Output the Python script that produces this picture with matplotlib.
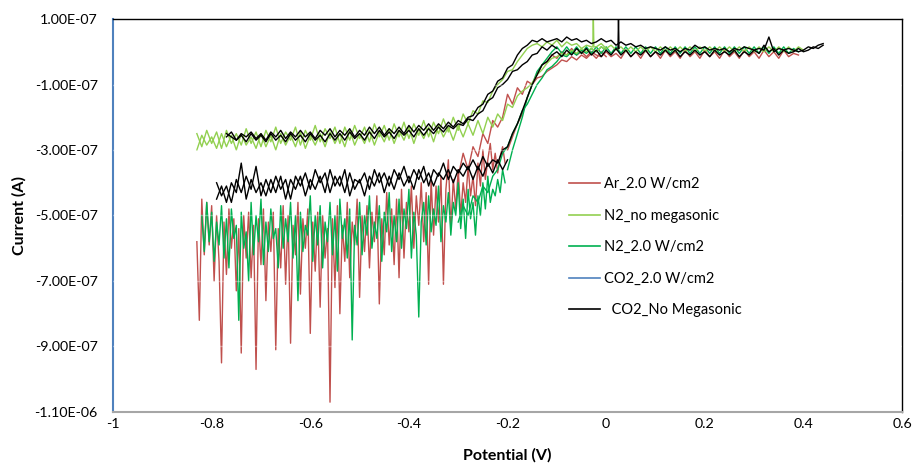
import numpy as np
import matplotlib
matplotlib.use("Agg")
import matplotlib.pyplot as plt
from matplotlib.ticker import FixedLocator, FuncFormatter
from matplotlib.lines import Line2D

plt.rcParams['font.family'] = ['Lato', 'DejaVu Sans']

SCALE = 1e-7  # all current values below are in units of 1e-7 A

def sweep(start, stop, step):
    n = int(round(abs(stop - start) / step)) + 1
    return np.round(np.linspace(start, stop, n), 4)

# ---------------- Ar_2.0 W/cm2 (red) ----------------
ar_x1 = sweep(-0.83, -0.205, 0.005)
ar_y1 = [-5.8, -8.2, -4.5, -6.2, -4.6, -5.9, -4.7, -7.0, -5.0, -6.4,
         -9.5, -5.2, -6.8, -4.8, -6.0, -5.1, -7.3, -5.4, -9.2, -5.0,
         -6.3, -4.9, -6.9, -5.3, -9.7, -5.1, -6.5, -4.8, -7.6, -5.2,
         -6.1, -4.9, -9.1, -5.4, -6.6, -4.7, -7.1, -5.0, -8.9, -5.3,
         -6.2, -4.6, -7.4, -5.1, -6.0, -4.8, -8.6, -5.2, -6.7, -4.9,
         -7.8, -5.0, -6.3, -5.4, -10.7, -5.1, -7.2, -4.7, -8.0, -5.3,
         -6.4, -4.6, -6.9, -5.2, -5.9, -4.5, -7.5, -5.0, -6.1, -4.7,
         -6.6, -4.9, -5.8, -4.4, -7.7, -5.1, -6.2, -4.3, -5.9, -4.8,
         -6.5, -4.5, -6.9, -4.2, -6.3, -4.6, -5.5, -4.1, -6.0, -4.4,
         -5.3, -4.0, -5.8, -4.3, -7.1, -3.9, -5.6, -4.1, -5.2, -3.8,
         -7.1, -4.2, -3.3, -5.4, -3.9, -4.8, -3.6, -5.0, -4.0, -4.6,
         -3.5, -4.4, -3.8, -4.7, -3.4, -4.1, -3.0, -3.9, -3.3, -2.8,
         -3.6, -3.1, -3.7, -3.2, -2.9, -3.4]
ar_x2 = sweep(-0.20, 0.39, 0.01)
ar_y2 = [-3.0, -2.6, -2.2, -1.9, -1.4, -1.0, -0.7, -0.4, -0.3, -0.1,
         -0.2, 0.0, -0.1, 0.1, -0.1, 0.0, -0.15, 0.0, -0.1, -0.15,
         0.0, -0.15, -0.05, -0.2, 0.05, -0.15, 0.0, -0.2, 0.05, -0.15,
         0.0, -0.2, 0.05, -0.15, 0.0, -0.2, 0.05, -0.15, 0.0, -0.2,
         0.05, -0.15, 0.0, -0.2, 0.05, -0.15, 0.0, -0.2, 0.05, -0.15,
         0.0, -0.2, 0.05, -0.15, 0.0, -0.2, 0.05, -0.15, -0.05, -0.1]
ar_x3 = sweep(0.0, -0.30, 0.01)
ar_y3 = [-0.15, 0.0, -0.2, -0.05, -0.2, -0.1, -0.25, -0.15, -0.3, -0.25,
         -0.4, -0.5, -0.6, -0.75, -0.8, -1.0, -0.9, -1.3, -1.1, -1.6,
         -1.3, -2.0, -2.3, -2.1, -2.8, -2.5, -3.2, -2.9, -3.6, -3.1,
         -3.8]

# ---------------- N2_no megasonic (light green) ----------------
n2nm_x1 = sweep(-0.83, 0.40, 0.01)
n2nm_y1 = [-2.5, -2.9, -2.4, -2.8, -2.45, -2.95, -2.4, -2.8, -2.5, -2.85,
           -2.35, -2.8, -2.45, -2.9, -2.4, -2.75, -2.3, -2.8, -2.45, -2.7,
           -2.3, -2.85, -2.4, -2.7, -2.25, -2.75, -2.35, -2.65, -2.3, -2.8,
           -2.3, -2.7, -2.25, -2.65, -2.3, -2.75, -2.2, -2.6, -2.25, -2.7,
           -2.2, -2.6, -2.15, -2.65, -2.2, -2.55, -2.1, -2.6, -2.15, -2.5,
           -2.05, -2.45, -2.0, -2.4,
           -1.9, -2.2, -1.8, -1.9, -1.5, -1.55, -1.2, -1.0, -0.85, -0.6,
           -0.55, -0.3, -0.1, 0.1, 0.2, 0.25, 0.15, 0.3, 0.2, 0.35,
           0.15, 0.3, 0.2, 0.25, 0.1, 0.2, 0.15, 0.15, 0.25, 0.1,
           0.2, 0.05, 0.15, 0.0, 0.15, 0.0, 0.15, 0.0, 0.15, 0.0,
           0.15, 0.0, 0.15, 0.0, 0.15, 0.0, 0.15, 0.0, 0.15, 0.0,
           0.15, 0.0, 0.15, 0.0, 0.15, 0.0, 0.15, 0.0, 0.15, 0.0,
           0.15, 0.0, 0.15, 0.0, 0.15, 0.0, 0.15, 0.0, 0.15, 0.05]
n2nm_x2 = sweep(0.0, -0.83, 0.01)
n2nm_y2 = [0.05, 0.15, 0.0, 0.1, 0.0, 0.1, -0.05, 0.05, -0.1, -0.05,
           -0.15, -0.2, -0.35, -0.55, -0.7, -0.95, -1.1, -1.2, -1.35, -1.7,
           -1.6, -2.1, -1.9, -2.3, -2.0, -2.5, -2.1, -2.55, -2.2, -2.6,
           -2.25, -2.7, -2.3, -2.6, -2.25, -2.75, -2.3, -2.65, -2.35, -2.8,
           -2.3, -2.7, -2.4, -2.8, -2.35, -2.75, -2.45, -2.85, -2.4, -2.8,
           -2.5, -2.85, -2.4, -2.9, -2.5, -2.8, -2.45, -2.9, -2.5, -2.85,
           -2.55, -2.95, -2.45, -2.9, -2.55, -2.85, -2.5, -3.0, -2.55, -2.9,
           -2.5, -2.95, -2.6, -2.85, -2.5, -3.0, -2.55, -2.9, -2.5, -2.95,
           -2.6, -2.85, -2.55, -3.0]
n2nm_spike_x = [-0.027, -0.026, -0.025]
n2nm_spike_y = [0.2, 1.05, 0.2]

# ---------------- N2_2.0 W/cm2 (green) ----------------
n2_x1 = sweep(-0.82, -0.205, 0.005)
n2_y1 = [-5.0, -6.1, -4.6, -5.8, -4.9, -6.4, -5.2, -5.9, -4.7, -6.3,
         -5.1, -6.6, -4.8, -5.7, -5.3, -8.2, -4.9, -6.0, -5.5, -7.0,
         -4.6, -6.2, -5.0, -5.8, -4.5, -6.5, -5.2, -6.1, -4.8, -5.7,
         -5.4, -6.6, -4.7, -6.0, -5.1, -5.8, -4.6, -6.3, -5.0, -7.6,
         -4.9, -6.1, -5.3, -5.6, -4.4, -6.4, -5.0, -5.9, -4.7, -6.6,
         -5.2, -5.8, -4.6, -6.2, -5.0, -6.7, -4.5, -5.7, -5.1, -6.3,
         -4.8, -8.8, -5.3, -5.9, -4.6, -6.2, -5.0, -5.6, -4.4, -6.0,
         -5.2, -5.7, -4.7, -6.4, -4.9, -5.5, -4.3, -6.1, -5.0, -5.8,
         -4.5, -6.0, -4.8, -5.4, -4.2, -6.3, -4.9, -5.6, -8.1, -5.2,
         -4.6, -5.9, -4.4, -5.5, -4.8, -5.3, -4.1, -5.8, -4.7, -5.2,
         -4.3, -5.6, -4.6, -5.0, -4.0, -5.4, -4.5, -5.7, -4.2, -5.1,
         -4.6, -5.6, -4.4, -5.0, -4.0, -4.8, -3.8, -4.6, -4.2, -4.4,
         -3.9, -4.3, -3.6, -4.0]
n2_x2 = sweep(-0.20, 0.39, 0.01)
n2_y2 = [-3.6, -3.0, -2.5, -2.0, -1.4, -1.0, -0.6, -0.4, -0.2, 0.0,
         0.15, -0.05, 0.15, -0.05, 0.15, -0.05, 0.15, -0.05, 0.15, -0.05,
         0.15, -0.05, 0.15, -0.05, 0.15, -0.05, 0.15, -0.05, 0.15, -0.05,
         0.15, -0.05, 0.15, -0.05, 0.15, -0.05, 0.15, -0.05, 0.15, -0.05,
         0.15, -0.05, 0.15, -0.05, 0.15, -0.05, 0.15, -0.05, 0.15, -0.05,
         0.15, -0.05, 0.15, -0.05, 0.15, -0.05, 0.15, -0.05, 0.1, 0.0]
n2_x3 = sweep(0.0, -0.30, 0.01)
n2_y3 = [0.05, 0.15, 0.0, 0.1, -0.05, 0.05, -0.1, 0.0, -0.15, -0.1,
         -0.3, -0.45, -0.55, -0.8, -1.0, -1.3, -1.6, -1.8, -2.2, -2.5,
         -2.9, -3.1, -3.6, -3.8, -4.3, -4.1, -4.6, -4.4, -5.0, -4.7,
         -5.2]

# ---------------- CO2_2.0 W/cm2 (blue) : no visible trace ----------------
co2mg_x = []
co2mg_y = []

# ---------------- CO2_No Megasonic (black) ----------------
co2_up_x1 = sweep(-0.77, 0.44, 0.01)
co2_up_y1 = [-2.6, -2.45, -2.7, -2.5, -2.6, -2.45, -2.65, -2.5, -2.7, -2.45,
             -2.6, -2.4, -2.65, -2.45, -2.6, -2.4, -2.6, -2.45, -2.65, -2.4,
             -2.55, -2.35, -2.6, -2.4, -2.55, -2.35, -2.6, -2.4, -2.55, -2.3,
             -2.5, -2.3, -2.55, -2.35, -2.5, -2.3, -2.5, -2.25, -2.45, -2.25,
             -2.4, -2.2, -2.4, -2.2, -2.35, -2.15, -2.3, -2.1, -2.2, -2.0,
             -1.95, -1.7, -1.6, -1.3, -1.2, -0.9, -0.8, -0.5, -0.4, -0.1,
             0.1, 0.2, 0.35, 0.3, 0.4, 0.3, 0.35, 0.4, 0.3, 0.45,
             0.35, 0.4, 0.3, 0.35, 0.25, 0.3, 0.4, 0.3, 0.35, 0.2,
             0.3, 0.2, 0.25, 0.15, 0.2, 0.1, 0.15, 0.1, 0.05, 0.15,
             0.05, 0.1, 0.0, 0.1, 0.05, 0.2, 0.1, 0.15, 0.05, 0.1,
             0.05, 0.1, 0.0, 0.1, 0.05, 0.15, 0.1, 0.05, 0.1, 0.05,
             0.45, 0.0, 0.1, 0.05, 0.1, 0.05, 0.0, 0.05, 0.15, 0.1,
             0.2, 0.25]
co2_up_x2 = sweep(-0.10, -0.77, 0.01)
co2_up_y2 = [0.1, 0.2, 0.05, 0.15, -0.05, -0.1, -0.3, -0.4, -0.55, -0.6,
             -0.85, -1.0, -1.1, -1.4, -1.5, -1.8, -1.9, -2.1, -2.05, -2.25,
             -2.2, -2.35, -2.25, -2.45, -2.3, -2.5, -2.35, -2.55, -2.35, -2.6,
             -2.4, -2.55, -2.4, -2.65, -2.45, -2.6, -2.4, -2.65, -2.45, -2.7,
             -2.5, -2.65, -2.45, -2.7, -2.5, -2.7, -2.5, -2.75, -2.55, -2.7,
             -2.5, -2.75, -2.55, -2.7, -2.5, -2.75, -2.55, -2.7, -2.5, -2.75,
             -2.55, -2.7, -2.5, -2.75, -2.55, -2.7, -2.6, -2.5]
co2_lo_x1 = sweep(-0.79, 0.44, 0.01)
co2_lo_y1 = [-4.0, -4.4, -4.1, -4.6, -3.9, -4.3, -3.8, -4.2, -3.5, -4.4,
             -3.9, -4.3, -3.8, -4.2, -3.9, -4.5, -3.8, -4.1, -3.7, -4.2,
             -3.6, -4.0, -3.7, -4.3, -3.8, -4.1, -3.6, -4.4, -3.9, -4.0,
             -3.7, -4.2, -3.6, -4.0, -3.7, -4.1, -3.6, -3.9, -3.5, -4.0,
             -3.6, -3.9, -3.5, -4.1, -3.6, -3.8, -3.4, -3.9, -3.5, -3.7,
             -3.4, -3.6, -3.3, -3.6, -3.2, -3.5, -3.3, -3.4, -3.0, -2.9,
             -2.5, -2.2, -1.8, -1.4, -1.0, -0.7, -0.4, -0.3, -0.1, 0.0,
             -0.15, 0.05, -0.1, 0.1, -0.05, 0.1, -0.1, 0.05, -0.15, 0.05,
             -0.1, 0.1, -0.1, 0.05, -0.15, 0.0, -0.1, 0.05, -0.15, 0.0,
             -0.1, 0.05, -0.1, 0.05, -0.15, 0.0, -0.1, 0.05, -0.1, 0.0,
             -0.15, 0.05, -0.1, 0.0, -0.1, 0.05, -0.15, 0.0, -0.1, 0.05,
             -0.05, 0.2, 0.0, 0.1, -0.1, 0.05, -0.05, 0.0, 0.1, 0.0,
             0.05, 0.15, 0.1, 0.2]
co2_lo_x2 = sweep(-0.20, -0.79, 0.01)
co2_lo_y2 = [-3.3, -3.6, -3.3, -3.7, -3.4, -3.8, -3.5, -3.9, -3.5, -3.8,
             -3.6, -4.0, -3.6, -3.9, -3.7, -4.1, -3.7, -4.0, -3.6, -4.2,
             -3.8, -4.1, -3.7, -4.2, -3.8, -4.3, -3.7, -4.1, -3.8, -4.4,
             -3.9, -4.2, -3.7, -4.3, -3.8, -4.1, -3.6, -4.3, -3.8, -4.2,
             -3.9, -4.4, -3.8, -4.2, -3.9, -4.5, -3.8, -4.3, -3.9, -4.4,
             -4.0, -4.3, -3.9, -4.5, -3.4, -4.3, -4.0, -4.6, -4.1, -4.5]
co2_spike_x = [0.024, 0.025, 0.026]
co2_spike_y = [0.1, 1.05, 0.1]

labels = ["Ar_2.0 W/cm2", "N2_no megasonic", "N2_2.0 W/cm2", "CO2_2.0 W/cm2", "  CO2_No Megasonic"]
colors = ["#C0504D", "#92D050", "#00B050", "#4F81BD", "#000000"]

x_ticks = [-1, -0.8, -0.6, -0.4, -0.2, 0, 0.2, 0.4, 0.6]
y_ticks = [1e-7, -1e-7, -3e-7, -5e-7, -7e-7, -9e-7, -1.1e-6]

fig = plt.figure(figsize=(9.13, 4.67), dpi=100)
ax = fig.add_axes([0.1238, 0.1178, 0.8642, 0.8415])

def s(v):
    return np.asarray(v, dtype=float) * SCALE

def line(x, y, c):
    n = min(len(x), len(y))
    ax.plot(np.asarray(x)[:n], s(y)[:n], color=c, lw=1.0)

# draw order: red, green, light green, black
line(ar_x1, ar_y1, colors[0])
line(ar_x2, ar_y2, colors[0])
line(ar_x3, ar_y3, colors[0])
line(n2_x1, n2_y1, colors[2])
line(n2_x2, n2_y2, colors[2])
line(n2_x3, n2_y3, colors[2])
line(n2nm_x1, n2nm_y1, colors[1])
line(n2nm_x2, n2nm_y2, colors[1])
line(n2nm_spike_x, n2nm_spike_y, colors[1])
ax.plot(co2mg_x, co2mg_y, color=colors[3], lw=1.0)
line(co2_up_x1, co2_up_y1, colors[4])
line(co2_up_x2, co2_up_y2, colors[4])
line(co2_lo_x1, co2_lo_y1, colors[4])
line(co2_lo_x2, co2_lo_y2, colors[4])
line(co2_spike_x, co2_spike_y, colors[4])

# faint gridlines drawn over the data
for yt in y_ticks[1:-1]:
    ax.axhline(yt, color="white", lw=1.0, alpha=0.35, zorder=5)

ax.set_xlim(-1, 0.6)
ax.set_ylim(-1.1e-6, 1e-7)
ax.xaxis.set_major_locator(FixedLocator(x_ticks))
ax.yaxis.set_major_locator(FixedLocator(y_ticks))
ax.xaxis.set_major_formatter(FuncFormatter(lambda v, p: f"{v:g}"))
ax.yaxis.set_major_formatter(FuncFormatter(lambda v, p: f"{v:.2E}"))
ax.tick_params(axis="both", length=0, labelsize=10.3)
ax.tick_params(axis="y", pad=11)
ax.tick_params(axis="x", pad=4)

ax.spines["top"].set_color("black")
ax.spines["right"].set_color("black")
ax.spines["bottom"].set_color("#A6A6A6")
ax.spines["bottom"].set_linewidth(1.5)
ax.spines["left"].set_color(colors[3])
ax.spines["left"].set_linewidth(1.5)
for sp in ["top", "right"]:
    ax.spines[sp].set_linewidth(1.0)

ax.set_xlabel("Potential (V)", fontsize=11.5, fontweight="bold", labelpad=13)
ax.set_ylabel("Current (A)", fontsize=11.5, fontweight="bold", labelpad=6)

handles = [Line2D([], [], color=c, lw=1.2) for c in colors]
leg = fig.legend(handles, labels, loc="upper left",
                 bbox_to_anchor=(556 / 913, 1 - 164 / 467),
                 frameon=False, fontsize=10.5, handlelength=2.1,
                 handletextpad=0.3, labelspacing=1.2)

fig.savefig("out.png", dpi=100)
